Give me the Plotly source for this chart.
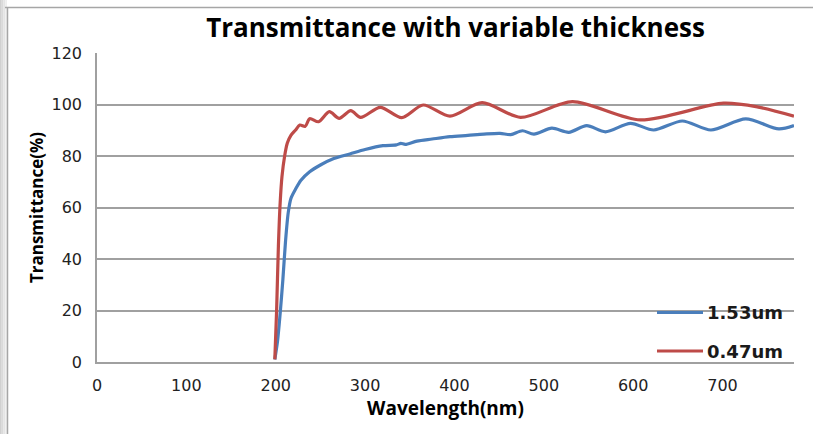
import plotly.graph_objects as go

# Transmittance spectra for two film thicknesses
wl_thick = [199, 202, 205, 208, 211, 214, 217, 222, 228, 238, 250, 265, 283, 300,
            320, 335, 340, 345, 358, 375, 395, 415, 433, 451, 463, 476, 489, 509,
            528, 548, 569, 597, 623, 655, 687, 726, 763, 780]
t_thick = [1, 8, 19, 32, 47, 58, 63.5, 67, 70.5, 73.9, 76.5, 79, 80.8, 82.5,
           84, 84.3, 84.9, 84.5, 85.8, 86.6, 87.5, 88, 88.5, 88.8, 88.3, 89.8, 88.5, 90.8,
           89.2, 91.8, 89.4, 92.7, 90.1, 93.6, 90.1, 94.4, 90.5, 91.8]

wl_thin = [199, 201, 203, 205, 207, 210, 213, 217, 222, 227, 233, 238, 248, 260,
           271, 284, 295, 317, 341, 365, 395, 431, 474, 532, 608, 701, 740, 780]
t_thin = [1, 20, 45, 62, 72, 80, 85, 88, 90, 92, 91.5, 94.5, 93.3, 97.2,
          94.6, 97.6, 95, 98.9, 94.9, 99.8, 95.5, 100.7, 95, 101.1, 94, 100.5, 99, 95.5]

series_names = ["1.53um", "0.47um"]
series_colors = ["#4a7ebb", "#be4b48"]

x_ticks = [0, 100, 200, 300, 400, 500, 600, 700]
y_ticks = [0, 20, 40, 60, 80, 100, 120]

fig = go.Figure()
fig.add_trace(go.Scatter(x=wl_thick, y=t_thick, mode="lines", name=series_names[0],
                         line=dict(color=series_colors[0], width=3.2, shape="spline", smoothing=0.8)))
fig.add_trace(go.Scatter(x=wl_thin, y=t_thin, mode="lines", name=series_names[1],
                         line=dict(color=series_colors[1], width=3.2, shape="spline", smoothing=0.8)))

# plot area geometry (pixels) used to place decorations in paper coordinates
L, R, T, B = 97, 794, 53, 362
W, H = R - L, B - T


def px(x):
    return (x - L) / W


def py(y):
    return (B - y) / H


shapes = []
# outer chart frame with a soft grey edge on the left
for i, c in enumerate(["#d0d0d0", "#dadada", "#e4e4e4", "#eeeeee"]):
    shapes.append(dict(type="rect", xref="paper", yref="paper", layer="below",
                       x0=px(i * 1.75), x1=px((i + 1) * 1.75), y0=py(434), y1=py(0),
                       fillcolor=c, line=dict(width=0)))
shapes.append(dict(type="line", xref="paper", yref="paper", x0=px(5), x1=px(813),
                   y0=py(7.5), y1=py(7.5), line=dict(color="#a6a6a6", width=1.5)))
shapes.append(dict(type="line", xref="paper", yref="paper", x0=px(7.5), x1=px(7.5),
                   y0=py(7.5), y1=py(434), line=dict(color="#a6a6a6", width=1.5)))

# legend swatches
annotations = []
for name, color, ly in zip(series_names, series_colors, [312.5, 351]):
    shapes.append(dict(type="line", xref="paper", yref="paper", x0=px(657), x1=px(703),
                       y0=py(ly), y1=py(ly), line=dict(color=color, width=3.2)))
    annotations.append(dict(text=name, xref="paper", yref="paper", x=px(705), y=py(ly),
                            xanchor="left", yanchor="middle", showarrow=False,
                            font=dict(family="DejaVu Sans", size=18, color="#1a1a1a", weight="bold")))

fig.update_layout(
    width=813, height=434,
    margin=dict(l=L, r=813 - R, t=T, b=434 - B),
    paper_bgcolor="white", plot_bgcolor="white",
    showlegend=False,
    title=dict(text="Transmittance with variable thickness", x=(455.5 - L) / W, xanchor="center",
               xref="paper", y=1 - 28 / 434, yanchor="middle",
               font=dict(family="Open Sans", size=26, color="#000000", weight="bold")),
    shapes=shapes, annotations=annotations,
)
fig.update_xaxes(range=[0, 780], tickvals=x_ticks, ticktext=[str(v) for v in x_ticks],
                 showgrid=False, zeroline=False, showline=True, linecolor="#a0a0a0", linewidth=1.5,
                 ticks="", ticklabelstandoff=8,
                 tickfont=dict(family="DejaVu Sans", size=16, color="#222222"),
                 title=dict(text="Wavelength(nm)", standoff=6,
                            font=dict(family="Open Sans", size=19, color="#000000", weight="bold")))
fig.update_yaxes(range=[0, 120], tickvals=y_ticks, ticktext=[str(v) for v in y_ticks],
                 showgrid=True, gridcolor="#a0a0a0", gridwidth=1.5, zeroline=False,
                 showline=True, linecolor="#a0a0a0", linewidth=1.5, ticks="",
                 ticklabelstandoff=10,
                 tickfont=dict(family="DejaVu Sans", size=16, color="#222222"),
                 title=dict(text="Transmittance(%)", standoff=4,
                            font=dict(family="Open Sans", size=17, color="#000000", weight="bold")))

fig.write_html("out.html")
